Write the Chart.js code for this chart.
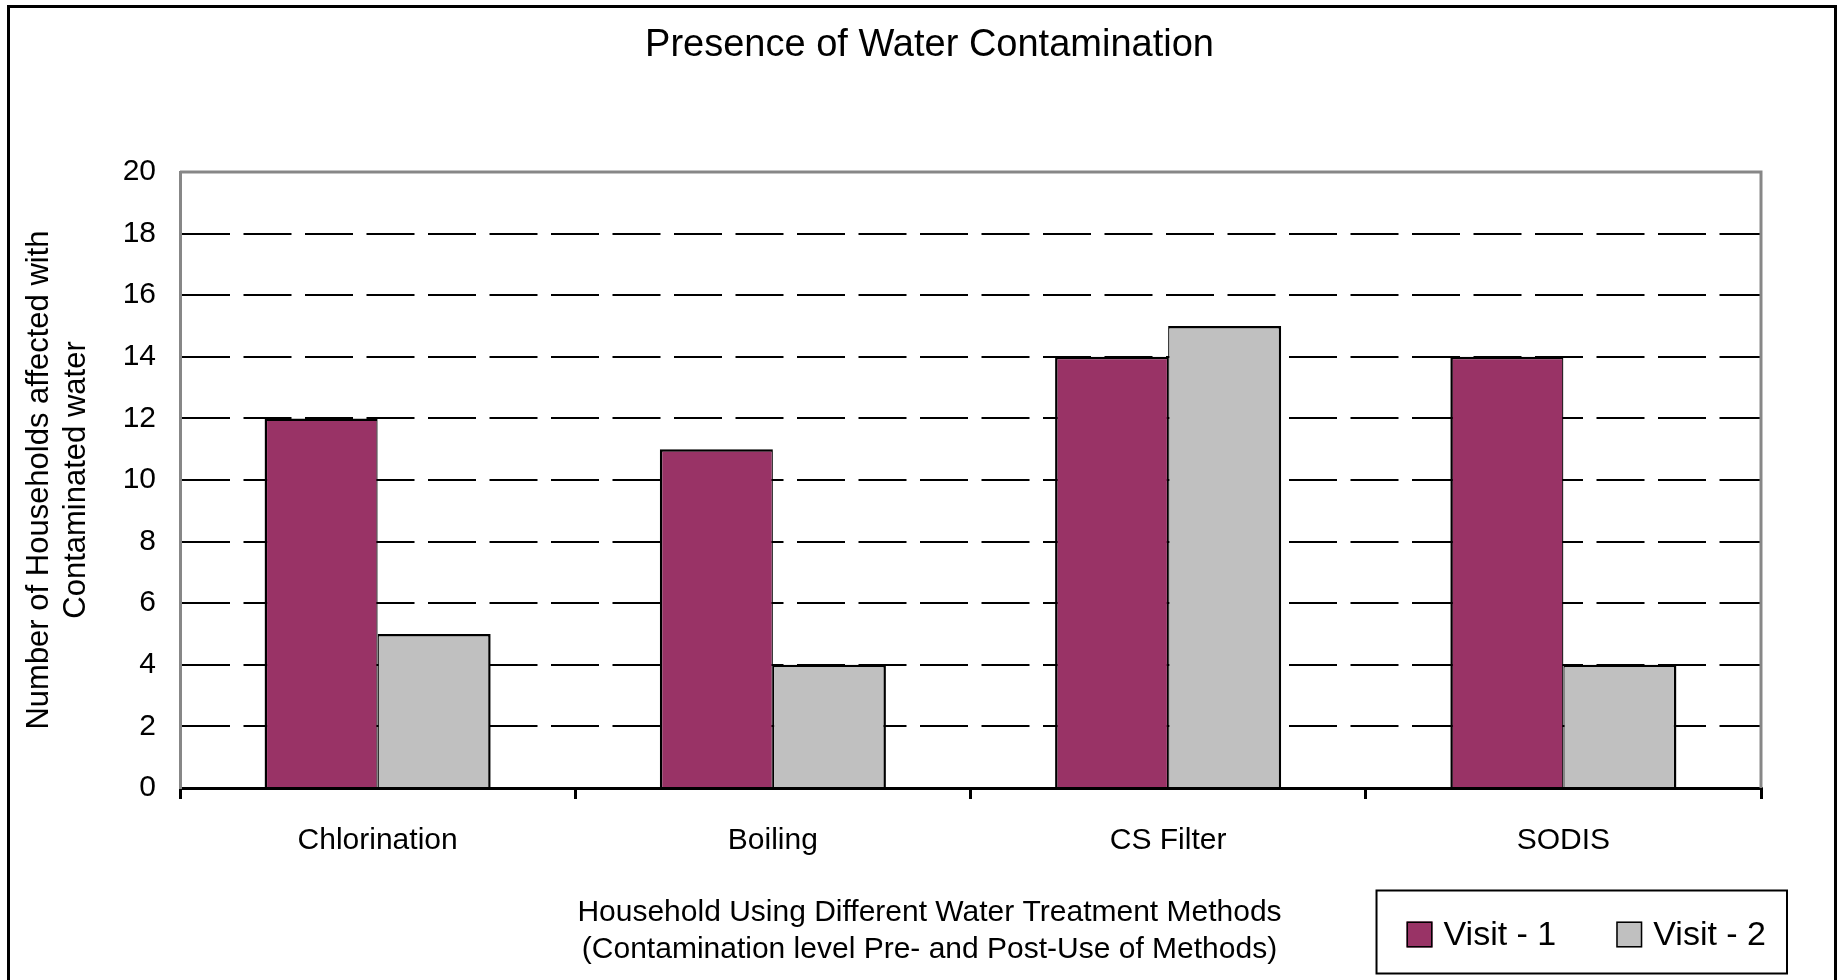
<!DOCTYPE html>
<html>
<head>
<meta charset="utf-8">
<script src="https://cdn.jsdelivr.net/npm/chart.js@4.4.1/dist/chart.umd.min.js"></script>
<style>
  html, body { margin: 0; padding: 0; background: #ffffff; }
  #chart { display: block; }
</style>
</head>
<body>
<canvas id="chart" width="1839" height="980"></canvas>
<script>
// Households with contaminated water, per treatment method and visit
const categories = ['Chlorination', 'Boiling', 'CS Filter', 'SODIS'];
const visit1 = [12, 11, 14, 14];
const visit2 = [5, 4, 15, 4];
const seriesNames = ['Visit - 1', 'Visit - 2'];
const yMin = 0;
const yMax = 20;
const yStep = 2;

const chartTitle = 'Presence of Water Contamination';
const yAxisTitle = ['Number of Households affected with', 'Contaminated water'];
const xAxisTitle = ['Household Using Different Water Treatment Methods',
                    '(Contamination level Pre- and Post-Use of Methods)'];

const FONT = '"Liberation Sans", Arial, Helvetica, sans-serif';
Chart.defaults.font.family = FONT;
Chart.defaults.color = '#000000';

// White page with a heavy outer frame
const pageFrame = {
  id: 'pageFrame',
  beforeDraw(chart) {
    const ctx = chart.ctx;
    ctx.save();
    ctx.fillStyle = '#ffffff';
    ctx.fillRect(0, 0, chart.width, chart.height);
    ctx.restore();
  },
  afterDraw(chart) {
    const ctx = chart.ctx;
    ctx.save();
    ctx.strokeStyle = '#000000';
    ctx.lineWidth = 3;
    ctx.strokeRect(8.5, 6.5, chart.width - 12, chart.height + 20);
    ctx.restore();
  }
};

// Grey top and right edges of the plot area
const plotFrame = {
  id: 'plotFrame',
  beforeDatasetsDraw(chart) {
    const {ctx, chartArea: a} = chart;
    ctx.save();
    ctx.strokeStyle = '#878787';
    ctx.lineWidth = 3;
    ctx.beginPath();
    ctx.moveTo(a.left, a.top);
    ctx.lineTo(a.right, a.top);
    ctx.lineTo(a.right, a.bottom);
    ctx.stroke();
    ctx.restore();
  }
};

// Boxed legend in the lower right corner, built from the datasets
const boxedLegend = {
  id: 'boxedLegend',
  afterDraw(chart) {
    const ctx = chart.ctx;
    const sets = chart.data.datasets;
    ctx.save();
    ctx.font = '34px ' + FONT;
    const sq = 26, padL = 30, padR = 21, gapText = 11, gapItem = 60;
    let total = padL + padR;
    sets.forEach((ds, i) => {
      total += sq + gapText + ctx.measureText(ds.label).width;
      if (i < sets.length - 1) total += gapItem;
    });
    const right = chart.width - 52;
    const bottom = chart.height - 6.5;
    const height = 83;
    const left = right - total;
    const top = bottom - height;
    ctx.fillStyle = '#ffffff';
    ctx.fillRect(left, top, total, height);
    ctx.strokeStyle = '#000000';
    ctx.lineWidth = 2;
    ctx.strokeRect(left, top, total, height);
    const cy = top + 44;
    let x = left + padL;
    sets.forEach((ds) => {
      ctx.fillStyle = ds.backgroundColor;
      ctx.fillRect(x, cy - sq / 2, sq, sq);
      ctx.lineWidth = 1.5;
      ctx.strokeStyle = '#000000';
      ctx.strokeRect(x + 0.75, cy - sq / 2 + 0.75, sq - 1.5, sq - 1.5);
      x += sq + gapText;
      ctx.fillStyle = '#000000';
      ctx.textBaseline = 'middle';
      ctx.textAlign = 'left';
      ctx.fillText(ds.label, x, cy + 1);
      x += ctx.measureText(ds.label).width + gapItem;
    });
    ctx.restore();
  }
};

new Chart(document.getElementById('chart'), {
  type: 'bar',
  data: {
    labels: categories,
    datasets: [
      {
        label: seriesNames[0],
        data: visit1,
        backgroundColor: '#993366',
        borderColor: '#000000',
        borderWidth: {top: 2.5, left: 2.5, right: 1.25, bottom: 0},
        borderSkipped: 'start',
        categoryPercentage: 0.572,
        barPercentage: 1.0
      },
      {
        label: seriesNames[1],
        data: visit2,
        backgroundColor: '#C0C0C0',
        borderColor: '#000000',
        borderWidth: {top: 2.5, left: 1.25, right: 2.5, bottom: 0},
        borderSkipped: 'start',
        categoryPercentage: 0.572,
        barPercentage: 1.0
      }
    ]
  },
  options: {
    responsive: false,
    animation: false,
    devicePixelRatio: 1,
    layout: { padding: { left: 20, right: 0, top: 0, bottom: 0 } },
    plugins: {
      legend: { display: false },
      tooltip: { enabled: false },
      title: {
        display: true,
        text: chartTitle,
        color: '#000000',
        font: { size: 38, weight: 'normal', lineHeight: 1.2 },
        padding: { top: 23, bottom: 103.4 }
      },
      subtitle: {
        display: true,
        position: 'bottom',
        text: xAxisTitle,
        color: '#000000',
        font: { size: 30, weight: 'normal', lineHeight: 37 / 30 },
        padding: { top: 10, bottom: 12 }
      }
    },
    scales: {
      x: {
        type: 'category',
        offset: true,
        grid: {
          display: true,
          offset: true,
          drawOnChartArea: false,
          drawTicks: true,
          tickLength: 11,
          color: '#000000',
          lineWidth: 3
        },
        border: { display: true, color: '#000000', width: 3 },
        ticks: {
          color: '#000000',
          font: { size: 30 },
          padding: 24,
          maxRotation: 0,
          autoSkip: false
        },
        afterFit(scale) { scale.height = 96; }
      },
      y: {
        type: 'linear',
        position: 'left',
        min: yMin,
        max: yMax,
        ticks: {
          stepSize: yStep,
          color: '#000000',
          font: { size: 30 },
          padding: 24
        },
        grid: {
          drawTicks: false,
          lineWidth: 2,
          color: (ctx) => {
            const v = ctx.tick ? ctx.tick.value : null;
            return (v === yMin || v === yMax) ? 'rgba(0,0,0,0)' : '#000000';
          }
        },
        border: { display: true, color: '#878787', width: 3, dash: [48, 13.5] },
        title: {
          display: true,
          text: yAxisTitle,
          color: '#000000',
          font: { size: 31, lineHeight: 37 / 31 },
          padding: { top: 0.5, bottom: 0 }
        },
        afterFit(scale) { scale.width = 160; }
      },
      yRight: {
        type: 'linear',
        position: 'right',
        display: true,
        grid: { display: false },
        border: { display: false },
        ticks: { display: false },
        afterFit(scale) { scale.width = 78; }
      }
    }
  },
  plugins: [pageFrame, plotFrame, boxedLegend]
});
</script>
</body>
</html>
